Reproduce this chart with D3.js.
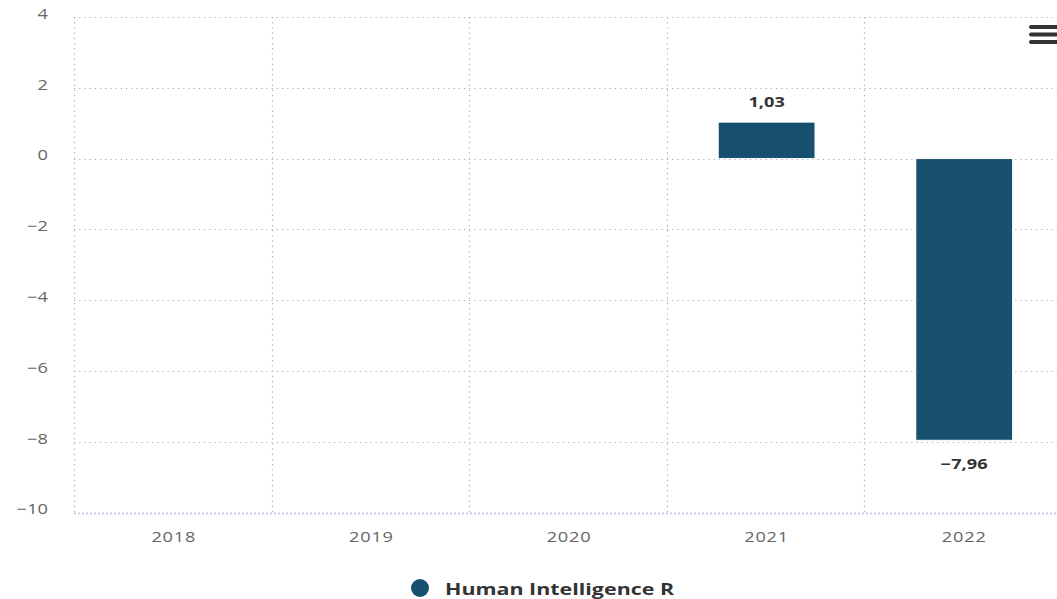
<!DOCTYPE html>
<html>
<head>
<meta charset="utf-8">
<script src="https://cdn.jsdelivr.net/npm/d3@7"></script>
<style>
  body { margin: 0; background: #fff; overflow: hidden; }
  text { font-family: "Open Sans", "DejaVu Sans", sans-serif; }
</style>
</head>
<body>
<script>
// chart data
let years = ["2018", "2019", "2020", "2021", "2022"];
let values = [null, null, null, 1.03, -7.96];
let yTicks = [-10, -8, -6, -4, -2, 0, 2, 4];
let seriesName = "Human Intelligence R";

let barColor = "#16506e";

let width = 1057, height = 599;
let margin = { top: 17, left: 74, bottom: 87, right: -7 };

// the text in the reference is drawn wide
let stretch = 1.3;

let svg = d3.select("body").append("svg")
  .attr("width", width)
  .attr("height", height);

let xScale = d3.scaleBand()
  .domain(years)
  .range([margin.left, width - margin.right])
  .paddingInner(0.51)
  .paddingOuter(0.26);

let yScale = d3.scaleLinear()
  .domain([-10, 4])
  .range([height - margin.bottom + 0.5, margin.top]);

let bandStep = xScale.step();
let plotLeft = margin.left, plotRight = width - margin.right;

// horizontal gridlines
svg.append("g")
  .selectAll("line")
  .data(yTicks.filter(d => d != -10))
  .enter().append("line")
  .attr("x1", plotLeft).attr("x2", plotRight)
  .attr("y1", d => Math.round(yScale(d)) + 0.5)
  .attr("y2", d => Math.round(yScale(d)) + 0.5)
  .attr("stroke", "#aaa")
  .attr("stroke-width", 1.2)
  .attr("stroke-dasharray", "1.2,4");

// vertical gridlines at category boundaries
svg.append("g")
  .selectAll("line")
  .data(d3.range(years.length + 1))
  .enter().append("line")
  .attr("x1", i => Math.round(plotLeft + i * bandStep) + 0.5)
  .attr("x2", i => Math.round(plotLeft + i * bandStep) + 0.5)
  .attr("y1", yScale(4))
  .attr("y2", yScale(-10))
  .attr("stroke", "#aaa")
  .attr("stroke-width", 1.2)
  .attr("stroke-dasharray", "1.2,4");

// x axis line
svg.append("line")
  .attr("x1", plotLeft).attr("x2", plotRight)
  .attr("y1", Math.round(yScale(-10)) + 0.5)
  .attr("y2", Math.round(yScale(-10)) + 0.5)
  .attr("stroke", "#c4cfe4")
  .attr("stroke-width", 2)
  .attr("stroke-dasharray", "2,2");

// y axis labels
let yAxis = d3.axisLeft(yScale)
  .tickValues(yTicks)
  .tickSize(0)
  .tickPadding(0)
  .tickFormat(d => d < 0 ? "\u2212" + Math.abs(d) : d);

let yG = svg.append("g")
  .attr("transform", "translate(48,0)")
  .call(yAxis);
yG.select(".domain").remove();
yG.selectAll("text")
  .attr("x", 0)
  .attr("fill", "#666")
  .attr("transform", "scale(" + stretch + ",1)")
  .style("font-size", "14px")
  .attr("dy", "0.1em");

// x axis labels
let xAxis = d3.axisBottom(xScale).tickSize(0).tickPadding(0);
let xG = svg.append("g")
  .attr("transform", "translate(0," + (yScale(-10) + 20) + ")")
  .call(xAxis);
xG.select(".domain").remove();
xG.selectAll("text")
  .attr("x", 0)
  .attr("fill", "#666")
  .attr("transform", "scale(" + stretch + ",1)")
  .style("font-size", "14px")
  .style("letter-spacing", "0.6px");

// bars
let barData = years.map((y, i) => ({ year: y, value: values[i] })).filter(d => d.value !== null);

svg.selectAll(".bar")
  .data(barData)
  .enter().append("rect")
  .attr("class", "bar")
  .attr("x", d => xScale(d.year))
  .attr("width", xScale.bandwidth())
  .attr("y", d => yScale(Math.max(0, d.value)))
  .attr("height", d => Math.abs(yScale(d.value) - yScale(0)))
  .attr("fill", barColor)
  .attr("stroke", "#fff")
  .attr("stroke-width", 1);

// data labels
svg.selectAll(".lbl")
  .data(barData)
  .enter().append("text")
  .attr("class", "lbl")
  .attr("transform", d => "translate(" + (xScale(d.year) + xScale.bandwidth() / 2) + "," +
    (d.value >= 0 ? yScale(d.value) - 15 : yScale(d.value) + 29) + ") scale(" + stretch + ",1)")
  .attr("text-anchor", "middle")
  .attr("fill", "#333")
  .attr("stroke", "#fff")
  .attr("stroke-width", 3)
  .attr("paint-order", "stroke")
  .style("font-size", "14px")
  .style("font-weight", "bold")
  .text(d => d3.format(".2f")(d.value).replace(".", ",").replace("-", "\u2212"));

// legend
let legend = svg.append("g").attr("transform", "translate(420,588)");
legend.append("circle")
  .attr("r", 9)
  .attr("fill", barColor);
legend.append("text")
  .attr("transform", "translate(25,7) scale(1.34,1)")
  .attr("fill", "#333")
  .style("font-size", "16px")
  .style("font-weight", "bold")
  .text(seriesName);

// context menu icon
svg.append("g")
  .selectAll("line")
  .data([27, 34.5, 42])
  .enter().append("line")
  .attr("x1", 1031).attr("x2", 1062)
  .attr("y1", d => d).attr("y2", d => d)
  .attr("stroke", "#333")
  .attr("stroke-width", 4)
  .attr("stroke-linecap", "round");
</script>
</body>
</html>
